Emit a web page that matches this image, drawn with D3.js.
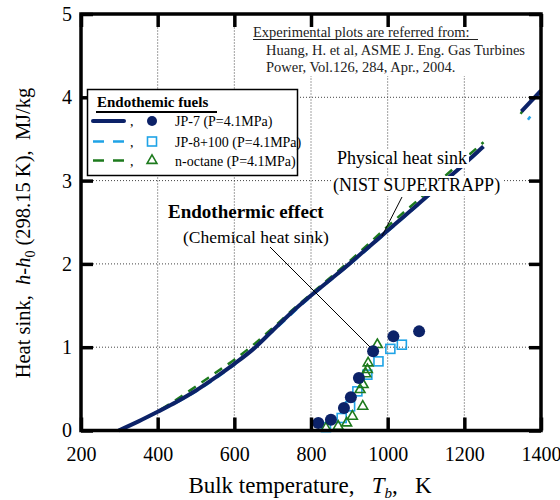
<!DOCTYPE html>
<html>
<head>
<meta charset="utf-8">
<script src="https://cdn.jsdelivr.net/npm/d3@7"></script>
<style>
  body { margin: 0; background: #fff; }
  svg { font-family: "Liberation Serif", "Times New Roman", serif; }
</style>
</head>
<body>
<svg id="chart" width="560" height="500"></svg>
<script>
// ---- data ----
const xTicks = [200, 400, 600, 800, 1000, 1200, 1400];
const yTicks = [0, 1, 2, 3, 4, 5];

// calculated (NIST SUPERTRAPP) curves, [T K, MJ/kg]
const jp7Calc = [[298.15, 0], [350, 0.11], [400, 0.225], [450, 0.345], [500, 0.48], [550, 0.635],
  [600, 0.8], [650, 0.98], [700, 1.2], [750, 1.42], [800, 1.62], [850, 1.81], [900, 2.0],
  [950, 2.2], [1000, 2.4], [1050, 2.6], [1100, 2.8], [1150, 3.0], [1200, 3.2], [1250, 3.41]];
const jp7CalcHigh = [[1349, 3.83], [1400, 4.08]];
const jp8Calc = [[298.15, 0], [400, 0.22], [500, 0.47], [600, 0.79], [700, 1.19], [800, 1.61],
  [900, 1.99], [1000, 2.39], [1100, 2.79], [1200, 3.19], [1250, 3.40]];
const jp8CalcHigh = [[1366, 3.73], [1372, 3.77]];
const octCalc = [[298.15, 0], [400, 0.23], [500, 0.53], [550, 0.69], [600, 0.85], [650, 1.03],
  [700, 1.23], [750, 1.44], [800, 1.64], [900, 2.03], [1000, 2.45], [1100, 2.85], [1200, 3.26], [1250, 3.46]];
const octCalcHigh = [[1347, 3.80], [1355, 3.86]];

// experimental plots (Huang et al., 2004)
const jp7Exp = [[819, 0.09], [852, 0.13], [886, 0.27], [904, 0.40], [925, 0.63], [962, 0.95], [1015, 1.13], [1082, 1.19]];
const jp8Exp = [[839, 0.04], [880, 0.15], [902, 0.29], [921, 0.47], [947, 0.67], [976, 0.83], [1007, 0.98], [1037, 1.03]];
const octExp = [[839, 0.03], [871, 0.05], [893, 0.09], [908, 0.17], [935, 0.29], [928, 0.49], [936, 0.55],
  [943, 0.68], [947, 0.73], [949, 0.81], [973, 1.03]];

const legendLabels = ["JP-7 (P=4.1MPa)", "JP-8+100 (P=4.1MPa)", "n-octane (P=4.1MPa)"];
const refLines = ["Experimental plots are referred from:",
  "Huang, H. et al, ASME J. Eng. Gas Turbines",
  "Power, Vol.126, 284, Apr., 2004."];

const NAVY = "#0c2268", SKY = "#1fa3e6", GREEN = "#1d7a1d";

// ---- layout ----
const svg = d3.select("#chart");
const W = 560, H = 500;
const m = { left: 81, right: 19, top: 14, bottom: 69.5 };
const x = d3.scaleLinear().domain([200, 1400]).range([m.left, W - m.right]);
const y = d3.scaleLinear().domain([0, 5]).range([H - m.bottom, m.top]);

// dotted grid
const grid = svg.append("g");
grid.selectAll(".gx").data(xTicks.slice(1, -1)).enter().append("line")
  .attr("x1", d => x(d)).attr("x2", d => x(d))
  .attr("y1", y(0)).attr("y2", y(5))
  .attr("stroke", "#444").attr("stroke-width", 1).attr("stroke-dasharray", "1,2");
grid.selectAll(".gy").data(yTicks.slice(1, -1)).enter().append("line")
  .attr("x1", x(200)).attr("x2", x(1400))
  .attr("y1", d => y(d)).attr("y2", d => y(d))
  .attr("stroke", "#444").attr("stroke-width", 1).attr("stroke-dasharray", "1,2");

// curves
const line = d3.line().x(d => x(d[0])).y(d => y(d[1])).curve(d3.curveMonotoneX);
function drawCurve(data, color, width, dash) {
  svg.append("path").datum(data)
    .attr("d", line)
    .attr("fill", "none")
    .attr("stroke", color)
    .attr("stroke-width", width)
    .attr("stroke-dasharray", dash);
}
drawCurve(jp8Calc, SKY, 2.5, "9,7");
drawCurve(jp8CalcHigh, SKY, 2.5, null);
drawCurve(octCalc, GREEN, 2.5, "9,7");
drawCurve(octCalcHigh, GREEN, 2.5, null);
drawCurve(jp7Calc, NAVY, 4, null);
drawCurve(jp7CalcHigh, NAVY, 4, null);

// experimental markers
const tri = d3.symbol().type(d3.symbolTriangle).size(42);
svg.selectAll(".jp8").data(jp8Exp).enter().append("rect")
  .attr("x", d => x(d[0]) - 4.5).attr("y", d => y(d[1]) - 4.5)
  .attr("width", 9).attr("height", 9)
  .attr("fill", "none").attr("stroke", SKY).attr("stroke-width", 1.6);
svg.selectAll(".oct").data(octExp).enter().append("path")
  .attr("d", tri)
  .attr("transform", d => `translate(${x(d[0])},${y(d[1])})`)
  .attr("fill", "none").attr("stroke", GREEN).attr("stroke-width", 1.6);
svg.selectAll(".jp7").data(jp7Exp).enter().append("circle")
  .attr("cx", d => x(d[0])).attr("cy", d => y(d[1])).attr("r", 6)
  .attr("fill", NAVY);

// annotations
svg.append("line").attr("x1", 270).attr("y1", 247).attr("x2", 370).attr("y2", 347)
  .attr("stroke", "#000").attr("stroke-width", 1);
svg.append("text").attr("x", 168).attr("y", 218).attr("font-size", 19)
  .attr("font-weight", "bold").text("Endothermic effect");
svg.append("text").attr("x", 183).attr("y", 243).attr("font-size", 17.5)
  .text("(Chemical heat sink)");

svg.append("line").attr("x1", 402).attr("y1", 197).attr("x2", 382).attr("y2", 236)
  .attr("stroke", "#000").attr("stroke-width", 1);
// each label line sits on its own white patch
function boxedText(tx, ty, size, str) {
  const bg = svg.append("rect").attr("fill", "#fff");
  const t = svg.append("text").attr("x", tx).attr("y", ty).attr("font-size", size).text(str);
  const b = t.node().getBBox();
  bg.attr("x", b.x - 2).attr("y", b.y + 1).attr("width", b.width + 4).attr("height", b.height - 1);
}
boxedText(337, 164, 18, "Physical heat sink");
boxedText(333, 191, 18, "(NIST SUPERTRAPP)");

// reference note (white box hides grid)
svg.append("rect").attr("x", 250).attr("y", 20).attr("width", 289).attr("height", 56).attr("fill", "#fff");
const ref = svg.append("g").attr("fill", "#222").attr("font-size", 14.5);
ref.append("text").attr("x", 253).attr("y", 37).text(refLines[0]);
ref.append("line").attr("x1", 253).attr("x2", 478).attr("y1", 39.5).attr("y2", 39.5)
  .attr("stroke", "#222").attr("stroke-width", 1);
ref.append("text").attr("x", 266).attr("y", 55).text(refLines[1]);
ref.append("text").attr("x", 266).attr("y", 72).text(refLines[2]);

// frame + axes
const fmt = d3.format("d");
const frame = svg.append("g");
frame.append("g").attr("transform", `translate(0,${y(0)})`)
  .call(d3.axisBottom(x).tickValues(xTicks).tickFormat(fmt).tickSizeInner(-13).tickSizeOuter(0).tickPadding(16))
  .call(g => g.select(".domain").remove());
frame.append("g").attr("transform", `translate(0,${y(5)})`)
  .call(d3.axisTop(x).tickValues(xTicks).tickSizeInner(-13).tickSizeOuter(0).tickFormat(""))
  .call(g => g.select(".domain").remove());
frame.append("g").attr("transform", `translate(${x(200)},0)`)
  .call(d3.axisLeft(y).tickValues(yTicks).tickFormat(fmt).tickSizeInner(-12).tickSizeOuter(0).tickPadding(9))
  .call(g => g.select(".domain").remove());
frame.append("g").attr("transform", `translate(${x(1400)},0)`)
  .call(d3.axisRight(y).tickValues(yTicks).tickSizeInner(-12).tickSizeOuter(0).tickFormat(""))
  .call(g => g.select(".domain").remove());
frame.selectAll(".tick line").attr("stroke", "#000").attr("stroke-width", 3.5);
frame.selectAll(".tick text").attr("font-size", 20).attr("fill", "#000")
  .attr("font-family", "Liberation Serif, serif");
frame.append("rect").attr("x", x(200)).attr("y", y(5))
  .attr("width", x(1400) - x(200)).attr("height", y(0) - y(5))
  .attr("fill", "none").attr("stroke", "#000").attr("stroke-width", 3.5);

// legend
const lg = svg.append("g");
lg.append("rect").attr("x", 87.5).attr("y", 89.5).attr("width", 210).attr("height", 86)
  .attr("fill", "#fff").attr("stroke", "#000").attr("stroke-width", 1.5);
lg.append("text").attr("x", 97).attr("y", 107).attr("font-size", 15).attr("font-weight", "bold")
  .text("Endothemic fuels");
lg.append("line").attr("x1", 96).attr("x2", 217).attr("y1", 112).attr("y2", 112)
  .attr("stroke", "#000").attr("stroke-width", 2);
const rowsY = [121, 141.5, 160.5];
const rowStyle = [
  { color: NAVY, width: 4, dash: null },
  { color: SKY, width: 2.5, dash: "11,9" },
  { color: GREEN, width: 2.5, dash: "11,9" }
];
rowsY.forEach((ry, i) => {
  lg.append("line").attr("x1", 93).attr("x2", 124).attr("y1", ry).attr("y2", ry)
    .attr("stroke", rowStyle[i].color).attr("stroke-width", rowStyle[i].width)
    .attr("stroke-linecap", i === 0 ? "round" : "butt")
    .attr("stroke-dasharray", rowStyle[i].dash);
  lg.append("text").attr("x", 130).attr("y", ry + 5).attr("font-size", 14).text(",");
  lg.append("text").attr("x", 175).attr("y", ry + 5).attr("font-size", 14).text(legendLabels[i]);
});
lg.append("circle").attr("cx", 152).attr("cy", rowsY[0]).attr("r", 5).attr("fill", NAVY);
lg.append("rect").attr("x", 147.5).attr("y", rowsY[1] - 4.5).attr("width", 9).attr("height", 9)
  .attr("fill", "none").attr("stroke", SKY).attr("stroke-width", 1.6);
lg.append("path").attr("d", tri).attr("transform", `translate(152,${rowsY[2]})`)
  .attr("fill", "none").attr("stroke", GREEN).attr("stroke-width", 1.6);

// axis titles
const sp = "\u00a0\u00a0\u00a0";
const xt = svg.append("text").attr("x", 310).attr("y", 493).attr("text-anchor", "middle").attr("font-size", 23);
xt.append("tspan").text("Bulk temperature," + sp);
xt.append("tspan").attr("font-style", "italic").text("T");
xt.append("tspan").attr("font-style", "italic").attr("font-size", 15).attr("dy", 5).text("b");
xt.append("tspan").attr("dy", -5).text("," + sp + "K");

const yt = svg.append("text").attr("transform", "translate(30,233) rotate(-90)")
  .attr("text-anchor", "middle").attr("font-size", 20.5);
yt.append("tspan").text("Heat sink,\u00a0\u00a0");
yt.append("tspan").attr("font-style", "italic").text("h-h");
yt.append("tspan").attr("font-size", 14).attr("dy", 5).text("0");
yt.append("tspan").attr("dy", -5).text(" (298.15 K),\u00a0\u00a0MJ/kg");
</script>
</body>
</html>
